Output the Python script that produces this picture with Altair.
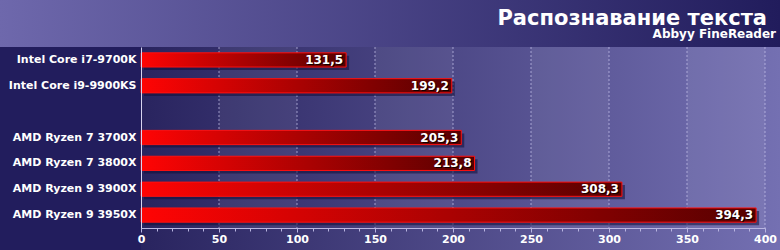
import altair as alt
import pandas as pd

categories = ["Intel Core i7-9700K", "Intel Core i9-9900KS",
              "AMD Ryzen 7 3700X", "AMD Ryzen 7 3800X",
              "AMD Ryzen 9 3900X", "AMD Ryzen 9 3950X"]
values = [131.5, 199.2, 205.3, 213.8, 308.3, 394.3]
y_order = categories[:2] + [" "] + categories[2:]
major_ticks = [0, 50, 100, 150, 200, 250, 300, 350, 400]
minor_ticks = list(range(0, 401, 10))
band_starts = [50, 150, 250, 350]
grid_values = [50, 100, 150, 200, 250, 300, 350, 400]
title_text = "Распознавание текста"
subtitle_text = "Abbyy FineReader"

W, H = 624, 181
PL, PT, PR, PB = 141, 47, 15, 22
FONT = "DejaVu Sans"

df = pd.DataFrame({
    "cpu": categories,
    "value": values,
    "label": [f"{v:.1f}".replace(".", ",") for v in values],
})
bands = pd.DataFrame({"start": band_starts, "end": [b + 50 for b in band_starts]})
grid = pd.DataFrame({"g": grid_values})
one = pd.DataFrame({"k": [0]})
titles = pd.DataFrame({"t": [title_text]})
subtitles = pd.DataFrame({"t": [subtitle_text]})

xscale = alt.Scale(domain=[0, 400], nice=False, zero=True)
yscale = alt.Scale(domain=y_order, paddingInner=0.45, paddingOuter=0.225)
yaxis = alt.Axis(title=None, ticks=False, labelFont=FONT, labelFontWeight="bold",
                 labelFontSize=11, labelColor="#ffffff", labelPadding=5,
                 domainColor="#d8d4f0", zindex=1)


def yenc():
    return alt.Y("cpu:N", scale=yscale, sort=y_order, axis=yaxis)


def grad(c0, c1):
    return alt.Gradient(gradient="linear",
                        stops=[alt.GradientStop(color=c0, offset=0),
                               alt.GradientStop(color=c1, offset=1)],
                        x1=0, x2=1, y1=0, y2=0)


# decorative backgrounds
top_band = alt.Chart(one).mark_rect(fill=grad("#6e68ac", "#211c5c")).encode(
    x=alt.value(-PL), x2=alt.value(W + PR), y=alt.value(-PT), y2=alt.value(0))
plot_bg = alt.Chart(one).mark_rect(fill=grad("#29245f", "#7470b2")).encode(
    x=alt.value(0), x2=alt.value(W + PR), y=alt.value(0), y2=alt.value(H + PB))

band_layer = alt.Chart(bands).mark_rect(color="#ffffff", opacity=0.06).encode(
    x=alt.X("start:Q", scale=xscale,
            axis=alt.Axis(values=minor_ticks, orient="bottom", labels=False, domain=False,
                          grid=False, ticks=True, tickSize=3, tickColor="#b8b4e0",
                          title=None, zindex=1)),
    x2="end:Q",
    y=alt.value(0), y2=alt.value(H))

grid_layer = alt.Chart(grid).mark_rule(color="#c8c4ec", strokeDash=[2, 2], strokeWidth=1,
                                       opacity=0.7).encode(
    x=alt.X("g:Q", scale=xscale, axis=None),
    y=alt.value(0), y2=alt.value(H))

shadow = alt.Chart(df).mark_bar(color="#120f38", opacity=0.55, xOffset=3, yOffset=3).encode(
    x=alt.X("value:Q", scale=xscale, axis=None),
    y=yenc())

bars = alt.Chart(df).mark_bar(fill=grad("#ff0404", "#560000"), stroke="#ff1010",
                              strokeWidth=1).encode(
    x=alt.X("value:Q", scale=xscale,
            axis=alt.Axis(values=major_ticks, orient="bottom", title=None, grid=False,
                          labelFont=FONT, labelFontWeight="bold", labelFontSize=11,
                          labelColor="#ffffff", domainColor="#b8b4e0", tickColor="#b8b4e0",
                          tickSize=4, labelPadding=1, zindex=1, labelFlush=False)),
    y=yenc())

text_shadow = alt.Chart(df).mark_text(align="right", baseline="middle", dx=-2, dy=1,
                                      font=FONT, fontWeight="bold", fontSize=12,
                                      color="#000000", opacity=0.8).encode(
    x=alt.X("value:Q", scale=xscale, axis=None),
    y=yenc(),
    text="label:N")

text = alt.Chart(df).mark_text(align="right", baseline="middle", dx=-3, dy=0,
                               font=FONT, fontWeight="bold", fontSize=12,
                               color="#ffffff").encode(
    x=alt.X("value:Q", scale=xscale, axis=None),
    y=yenc(),
    text="label:N")

title_mark = alt.Chart(titles).mark_text(align="right", baseline="alphabetic", font=FONT,
                                         fontWeight="bold", fontSize=21, color="#ffffff").encode(
    x=alt.value(W + 2), y=alt.value(-22), text="t:N")
subtitle_mark = alt.Chart(subtitles).mark_text(align="right", baseline="alphabetic", font=FONT,
                                               fontWeight="bold", fontSize=12, color="#ffffff").encode(
    x=alt.value(W + 11), y=alt.value(-9), text="t:N")

chart = alt.layer(top_band, plot_bg, band_layer, grid_layer, shadow, bars, text_shadow, text,
                  title_mark, subtitle_mark).resolve_axis(
    x="independent").properties(
    width=W, height=H,
    autosize=alt.AutoSizeParams(type="none"),
    padding={"left": PL, "top": PT, "right": PR, "bottom": PB},
    background="#221d5d",
).configure_view(stroke=None)

chart.save("out.html", embed_options={"renderer": "svg", "actions": False})
